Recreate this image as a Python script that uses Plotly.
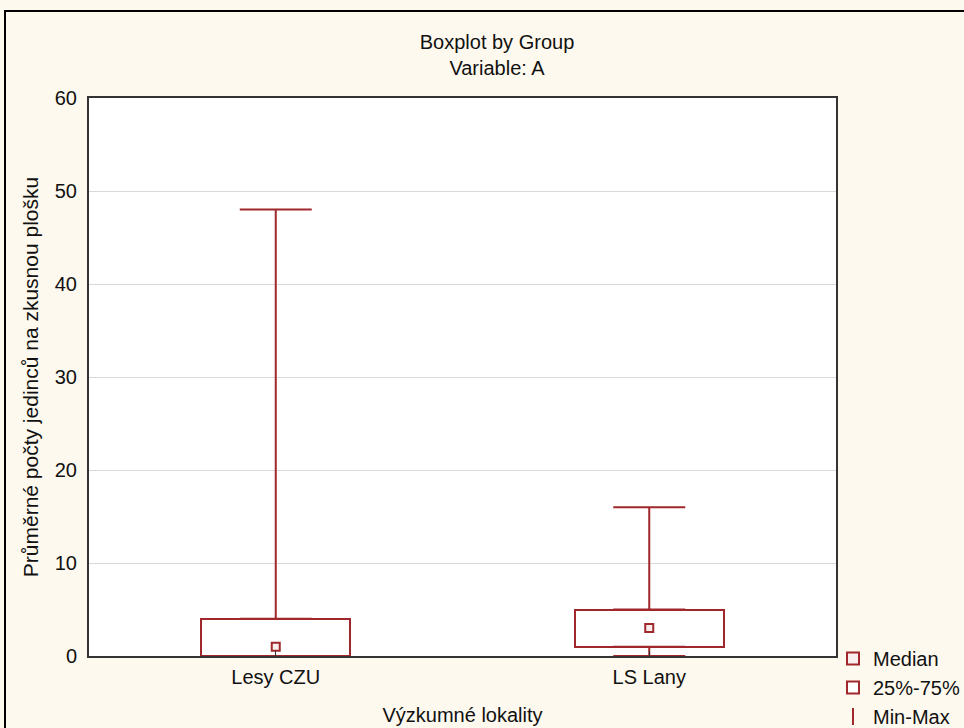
import plotly.graph_objects as go

# ---- data ----
categories = ["Lesy CZU", "LS Lany"]
minimum = [0, 0]
q1 = [0, 1]
median = [1, 3]
q3 = [4, 5]
maximum = [48, 16]

title_text = "Boxplot by Group<br>Variable: A"
x_title = "Výzkumné lokality"
y_title = "Průměrné počty jedinců na zkusnou plošku"
legend_labels = ["Median", "25%-75%", "Min-Max"]

# ---- style ----
RED = "#a0282d"
BG = "#fef9ee"
FONT = "Liberation Sans, Arial, sans-serif"
TXT = "#111111"

fig = go.Figure()

# 25%-75% box
fig.add_trace(go.Bar(
    x=categories,
    y=[b - a for a, b in zip(q1, q3)],
    base=q1,
    width=0.4,
    marker=dict(color="white", line=dict(color=RED, width=2)),
    name=legend_labels[1],
    legendrank=2,
))

# upper whisker: from q3 up to max
fig.add_trace(go.Scatter(
    x=categories,
    y=q3,
    mode="markers",
    marker=dict(symbol="line-ns", size=1, color=RED, line=dict(color=RED, width=2)),
    error_y=dict(type="data", symmetric=False,
                 array=[mx - b for mx, b in zip(maximum, q3)],
                 arrayminus=[0 for _ in q3],
                 color=RED, thickness=2, width=36),
    name=legend_labels[2],
    legendrank=3,
))

# lower whisker: from q1 down to min
fig.add_trace(go.Scatter(
    x=categories,
    y=q1,
    mode="markers",
    marker=dict(symbol="line-ns", size=1, color=RED, line=dict(color=RED, width=2)),
    error_y=dict(type="data", symmetric=False,
                 array=[0 for _ in q1],
                 arrayminus=[a - mn for a, mn in zip(q1, minimum)],
                 color=RED, thickness=2, width=36),
    showlegend=False,
))

# median
fig.add_trace(go.Scatter(
    x=categories,
    y=median,
    mode="markers",
    marker=dict(symbol="square", size=8, color="#fbeeee", line=dict(color=RED, width=2)),
    name=legend_labels[0],
    legendrank=1,
))

W, H = 964, 728
L, R, T, B = 89, 128, 98, 72
pw = W - L - R
ph = H - T - B

def px_x(px):
    return (px - L) / pw

def px_y(py):
    return (H - B - py) / ph

fig.update_layout(
    width=W, height=H,
    margin=dict(l=L, r=R, t=T, b=B, pad=0, autoexpand=False),
    paper_bgcolor=BG,
    plot_bgcolor="white",
    font=dict(family=FONT, size=20, color=TXT),
    title=dict(text=title_text, x=497 / W, xanchor="center", xref="container",
               y=1 - 49 / H, yanchor="top", yref="container",
               font=dict(family=FONT, size=20, color=TXT)),
    showlegend=True,
    legend=dict(x=px_x(833), xanchor="left", y=px_y(639), yanchor="top",
                bgcolor="rgba(0,0,0,0)", borderwidth=0,
                itemsizing="constant", traceorder="normal",
                font=dict(family=FONT, size=20, color=TXT),
                itemwidth=30),
    bargap=0,
    shapes=[dict(type="rect", xref="paper", yref="paper",
                 x0=px_x(5), x1=px_x(1000), y0=px_y(760), y1=px_y(11),
                 line=dict(color="black", width=2), fillcolor="rgba(0,0,0,0)",
                 layer="below")],
)

fig.update_xaxes(
    type="category",
    categoryorder="array", categoryarray=categories,
    range=[-0.5, 1.5],
    showline=True, linecolor="#333333", linewidth=2, mirror=True,
    showgrid=False,
    ticks="inside", ticklen=5, tickcolor="#333333", tickwidth=1,
    ticklabelstandoff=2,
    tickfont=dict(family=FONT, size=20, color=TXT),
    title=dict(text=x_title, standoff=21, font=dict(family=FONT, size=20, color=TXT)),
    automargin=False,
)

fig.update_yaxes(
    range=[0, 60], dtick=10, tick0=0,
    showline=True, linecolor="#333333", linewidth=2, mirror=True,
    showgrid=True, gridcolor="#d9d9d9", gridwidth=1,
    zeroline=False,
    ticks="", ticklabelstandoff=6,
    tickfont=dict(family=FONT, size=20, color=TXT),
    title=dict(text=y_title, standoff=10, font=dict(family=FONT, size=21, color=TXT)),
    automargin=False,
)

fig.write_html("out.html", config={"displayModeBar": False},
               post_script="document.body.style.margin='0';")
